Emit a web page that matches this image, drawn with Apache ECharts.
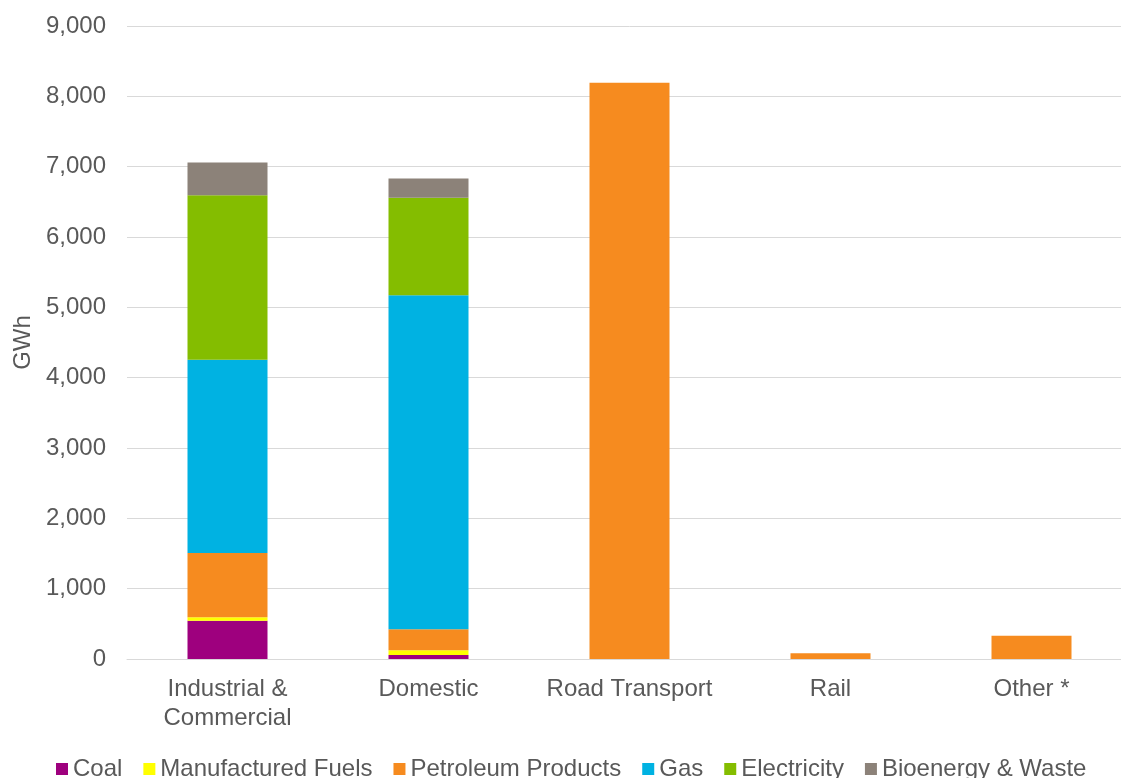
<!DOCTYPE html>
<html>
<head>
<meta charset="utf-8">
<script src="https://cdn.jsdelivr.net/npm/echarts@6/dist/echarts.min.js"></script>
<style>
html,body{margin:0;padding:0;background:#fff;overflow:hidden;}
#chart{width:1140px;height:778px;}
</style>
</head>
<body>
<div id="chart"></div>
<script>
const categories = ['Industrial &\nCommercial', 'Domestic', 'Road Transport', 'Rail', 'Other *'];
const coal = [545, 57, 0, 0, 0];
const manufacturedFuels = [50, 66, 0, 0, 0];
const petroleumProducts = [913, 300, 8193, 80, 331];
const gas = [2745, 4749, 0, 0, 0];
const electricity = [2342, 1385, 0, 0, 0];
const bioenergyWaste = [465, 275, 0, 0, 0];
const yTicks = [0, 1000, 2000, 3000, 4000, 5000, 6000, 7000, 8000, 9000];

const seriesDefs = [
  ['Coal', coal, '#9E007E'],
  ['Manufactured Fuels', manufacturedFuels, '#FFFF00'],
  ['Petroleum Products', petroleumProducts, '#F68B1F'],
  ['Gas', gas, '#00B2E2'],
  ['Electricity', electricity, '#84BD00'],
  ['Bioenergy & Waste', bioenergyWaste, '#8C8279']
];

function fmt(v){ return String(v).replace(/\B(?=(\d{3})+(?!\d))/g, ','); }

const font = '"Liberation Sans", Arial, sans-serif';
const chart = echarts.init(document.getElementById('chart'), null, {renderer:'canvas'});
chart.setOption({
  animation: false,
  backgroundColor: '#ffffff',
  textStyle: {fontFamily: font},
  grid: {left: 127, top: 26, width: 1005, height: 633, containLabel: false},
  legend: {
    bottom: -8, left: 51,
    itemWidth: 12, itemHeight: 12, itemGap: 21,
    icon: 'rect',
    textStyle: {fontSize: 24, color: '#595959', fontFamily: font},
    data: seriesDefs.map(s => s[0])
  },
  xAxis: {
    type: 'category',
    data: categories,
    axisLine: {lineStyle: {color: '#d9d9d9', width: 1}},
    axisTick: {show: false},
    axisLabel: {fontSize: 24, color: '#595959', margin: 16, lineHeight: 29, interval: 0, fontFamily: font}
  },
  yAxis: {
    type: 'value',
    min: yTicks[0], max: yTicks[yTicks.length-1], interval: 1000,
    name: 'GWh', nameLocation: 'middle', nameGap: 92, nameRotate: 90,
    nameTextStyle: {fontSize: 24, color: '#595959', fontFamily: font},
    axisLine: {show: false}, axisTick: {show: false},
    splitLine: {lineStyle: {color: '#d9d9d9', width: 1}},
    axisLabel: {fontSize: 24, color: '#595959', margin: 21, formatter: fmt, fontFamily: font}
  },
  series: seriesDefs.map(s => ({
    name: s[0], type: 'bar', stack: 'total', data: s[1],
    barWidth: 80,
    itemStyle: {color: s[2]}
  }))
});
</script>
</body>
</html>
